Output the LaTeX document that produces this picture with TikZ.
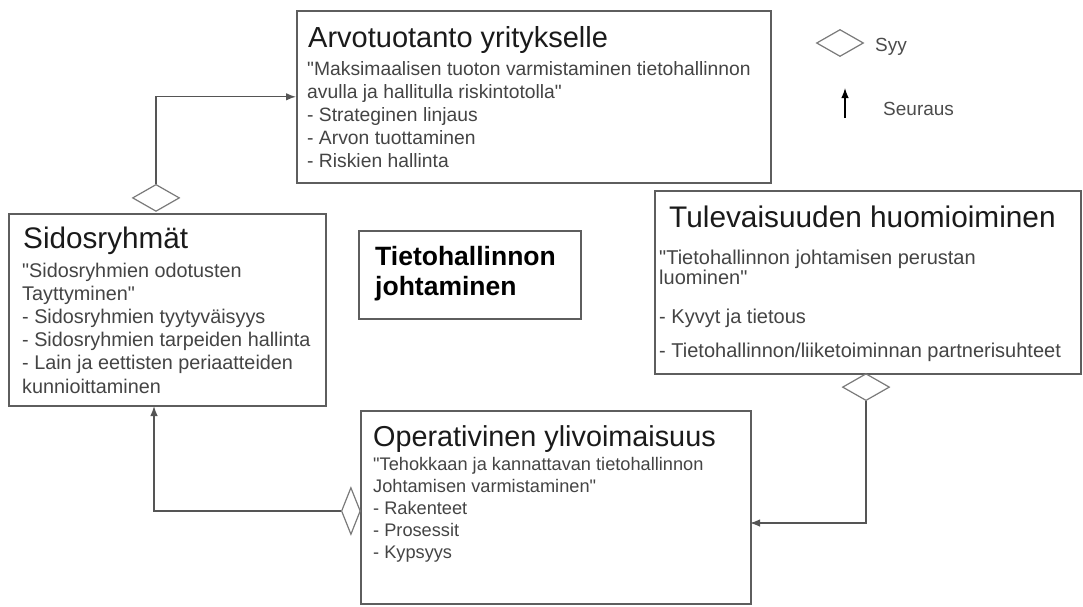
\documentclass[tikz,border=0pt]{standalone}
\usepackage{fontspec}
\setmainfont{Liberation Sans}[Ligatures=TeXOff]
\usetikzlibrary{arrows.meta,shapes.geometric}
\definecolor{boxline}{HTML}{5E5E5E}
\definecolor{conline}{HTML}{555555}
\definecolor{diagline}{HTML}{7A7A7A}
\definecolor{titletext}{HTML}{1A1A1A}
\definecolor{bodytext}{HTML}{444444}
\newcommand{\qq}{\symbol{34}}
\begin{document}
\begin{tikzpicture}[x=1pt,y=-1pt,
  box/.style={draw=boxline, line width=1.6pt, rectangle, inner sep=0pt, anchor=north west},
  syydia/.style={draw=diagline, line width=1.2pt, diamond, inner sep=0pt, minimum width=47pt, minimum height=27pt},
  vsyydia/.style={draw=diagline, line width=1.2pt, diamond, inner sep=0pt, minimum width=19pt, minimum height=47pt},
  conn/.style={draw=conline, line width=1.3pt},
  seur/.style={conn, -{Latex[length=10pt,width=7.5pt]}},
  ttl/.style={inner sep=0pt, anchor=base west, text=titletext},
  bdy/.style={inner sep=0pt, anchor=base west, text=bodytext}]
\useasboundingbox (0,0) rectangle (1083,606);
\fill[white] (0,0) rectangle (1083,606);

% boxes
\node[box, minimum width=474pt, minimum height=172pt] (arvo) at (296,10) {};
\node[box, minimum width=317pt, minimum height=192pt] (sid) at (8,213) {};
\node[box, minimum width=222pt, minimum height=88pt] (tj) at (358,230) {};
\node[box, minimum width=426pt, minimum height=183pt] (tul) at (654,190) {};
\node[box, minimum width=390pt, minimum height=193pt] (oper) at (360,410) {};

% texts: Arvotuotanto
\node[ttl] (arvoT) at (308,47) {\fontsize{29}{34}\selectfont Arvotuotanto yritykselle};
\node[bdy] (arvoB) at (307,75) {\parbox[t]{460pt}{\fontsize{19.3}{23}\selectfont
\qq Maksimaalisen tuoton varmistaminen tietohallinnon\\
avulla ja hallitulla riskintotolla\qq\\
- Strateginen linjaus\\
- Arvon tuottaminen\\
- Riskien hallinta}};

% Sidosryhmat
\node[ttl] (sidT) at (23,248) {\fontsize{29.7}{34}\selectfont Sidosryhmät};
\node[bdy] (sidB) at (22,277) {\parbox[t]{300pt}{\fontsize{19.8}{23.2}\selectfont
\qq Sidosryhmien odotusten\\
Tayttyminen\qq\\
- Sidosryhmien tyytyväisyys\\
- Sidosryhmien tarpeiden hallinta\\
- Lain ja eettisten periaatteiden\\
kunnioittaminen}};

% Tietohallinnon johtaminen
\node[ttl, text=black] (tjT) at (375,265) {\parbox[t]{200pt}{\fontsize{26.5}{30}\selectfont\bfseries
Tietohallinnon\\
johtaminen}};

% Tulevaisuuden
\node[ttl] (tulT) at (669,227) {\fontsize{29.8}{34}\selectfont Tulevaisuuden huomioiminen};
\node[bdy] (tulB) at (659,264) {\parbox[t]{415pt}{\fontsize{20}{20}\selectfont
\qq Tietohallinnon johtamisen perustan\\
luominen\qq\\[19pt]
- Kyvyt ja tietous\\[14pt]
- Tietohallinnon/liiketoiminnan partnerisuhteet}};

% Operativinen
\node[ttl] (operT) at (373,446) {\fontsize{28.8}{34}\selectfont Operativinen ylivoimaisuus};
\node[bdy] (operB) at (373,470) {\parbox[t]{370pt}{\fontsize{18.2}{22}\selectfont
\qq Tehokkaan ja kannattavan tietohallinnon\\
Johtamisen varmistaminen\qq\\
- Rakenteet\\
- Prosessit\\
- Kypsyys}};

% diamonds (Syy)
\node[syydia, anchor=south] (d1) at (156,212) {};
\node[syydia, anchor=north] (d2) at (866,373) {};
\node[vsyydia, anchor=east] (d3) at (361,511) {};

% connectors (Seuraus)
\coordinate (operIn) at (750,523);
\coordinate (sidIn) at (154,406);
\draw[seur] (d1.north) |- (arvo.west);
\draw[seur] (d2.south) |- (operIn);
\draw[seur] (d3.west) -| (sidIn);

% legend
\node[syydia] (legD) at (840,43) {};
\node[bdy, text=black!70] (legSyy) at (875,51) {\fontsize{19}{22}\selectfont Syy};
\coordinate (legA1) at (845,118);
\coordinate (legA2) at (845,88);
\draw[seur, draw=black] (legA1) -- (legA2);
\node[bdy, text=black!70] (legSeur) at (883,115) {\fontsize{19}{22}\selectfont Seuraus};
\end{tikzpicture}
\end{document}
